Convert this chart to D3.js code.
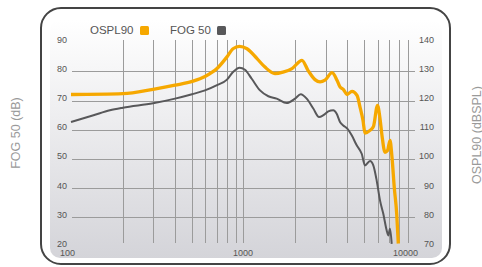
<!DOCTYPE html>
<html>
<head>
<meta charset="utf-8">
<script src="https://cdn.jsdelivr.net/npm/d3@7"></script>
<style>
  body { margin: 0; background: #fff; }
  svg { display: block; font-family: "Liberation Sans", Arial, Helvetica, sans-serif; }
</style>
</head>
<body>
<div id="chart"></div>
<script>
// OSPL90 curve (Hz, dBSPL) - right axis
var osplFreq = [100, 200, 299, 401, 510, 598, 702, 802, 869, 948, 1048, 1198, 1332, 1522, 1694, 1911,
    2183, 2365, 2597, 2777, 2968, 3259, 3483, 3626, 3799, 3981, 4256, 4550, 4737, 4929, 5062, 5412,
    5670, 5982, 6184, 6350, 6610, 6836, 7069, 7260, 7484, 7728, 7896];
var osplVal = [122.1, 122.4, 123.9, 125.3, 126.7, 128.3, 131.0, 135.0, 137.8, 138.6, 137.8, 134.4, 131.5, 129.3, 129.8, 131.0,
    133.8, 130.4, 127.2, 126.4, 127.0, 129.6, 127.0, 124.7, 123.8, 122.1, 123.2, 121.8, 117.8, 113.2, 108.9, 109.8,
    111.2, 118.4, 113.9, 108.1, 102.3, 102.9, 106.4, 100.5, 90.2, 81.3, 71.0];

// FOG 50 curve (Hz, dB) - left axis
var fogFreq = [100, 135, 168, 200, 299, 401, 503, 598, 702, 802, 869, 948, 1020, 1116, 1247, 1393, 1557, 1780,
    1989, 2146, 2325, 2539, 2740, 2901, 3101, 3315, 3470, 3626, 3789, 3997, 4240, 4532, 4845, 5062,
    5412, 5656, 5918, 6184, 6463, 6762, 6908, 7069, 7231];
var fogVal = [62.7, 65.0, 66.7, 67.6, 69.1, 70.7, 72.2, 73.5, 75.3, 77.2, 79.8, 81.3, 80.6, 77.5, 73.5, 71.5, 70.7, 69.2,
    70.7, 72.2, 70.7, 67.3, 64.4, 65.0, 66.3, 66.7, 65.5, 62.7, 61.5, 60.4, 58.1, 54.7, 51.8, 47.8,
    49.3, 47.8, 42.6, 35.8, 31.2, 25.5, 23.8, 26.1, 20.9];

var leftTicks = [20, 30, 40, 50, 60, 70, 80, 90];
var rightTicks = [70, 80, 90, 100, 110, 120, 130, 140];
var gridY = [30, 40, 50, 60, 70, 80];
var gridX = [200, 300, 400, 500, 600, 700, 800, 900, 1000, 2000, 3000, 4000, 5000, 6000, 7000, 8000, 9000];
var xLabels = [100, 1000, 10000];

var width = 482, height = 267;
var orange = "#f6a800", gray = "#58585a";

var svg = d3.select("#chart").append("svg").attr("width", width).attr("height", height);

var x = d3.scaleLog().domain([100, 10000]).range([71, 416]);
var yL = d3.scaleLinear().domain([20, 90]).range([246.5, 42.3]);
var yR = d3.scaleLinear().domain([70, 140]).range([246.5, 42.3]);

// panel background
var grad = svg.append("defs").append("linearGradient")
    .attr("id", "bg").attr("x1", 0).attr("y1", 0).attr("x2", 0).attr("y2", 1);
grad.append("stop").attr("offset", "0%").attr("stop-color", "#ffffff");
grad.append("stop").attr("offset", "100%").attr("stop-color", "#d4d4d9");

svg.append("rect")
    .attr("x", 50).attr("y", 20).attr("width", 392).attr("height", 238)
    .attr("rx", 10)
    .style("fill", "url(#bg)");

svg.append("rect")
    .attr("x", 41).attr("y", 8).attr("width", 409).attr("height", 256)
    .attr("rx", 20)
    .style("fill", "none").style("stroke", "#444").style("stroke-width", 2);

// grid
var grid = svg.append("g").attr("class", "grid");
grid.selectAll("line.h").data(gridY).enter().append("line")
    .attr("class", "h")
    .attr("x1", x(100) + 1).attr("x2", x(10000) - 1)
    .attr("y1", d => Math.round(yL(d)) + 0.5).attr("y2", d => Math.round(yL(d)) + 0.5)
    .style("stroke", "#9b9b9b").style("stroke-width", 1);
grid.selectAll("line.v").data(gridX).enter().append("line")
    .attr("class", "v")
    .attr("x1", d => Math.round(x(d)) + 0.5).attr("x2", d => Math.round(x(d)) + 0.5)
    .attr("y1", 40).attr("y2", 243)
    .style("stroke", "#9b9b9b").style("stroke-width", 1);

// axes (labels only)
var axL = svg.append("g").attr("transform", "translate(70,0)")
    .call(d3.axisLeft(yL).tickValues(leftTicks).tickSize(0).tickPadding(3));
var axR = svg.append("g").attr("transform", "translate(434,0)")
    .call(d3.axisRight(yR).tickValues(rightTicks).tickSize(0).tickPadding(0));
axR.selectAll("text").attr("text-anchor", "end");
var axB = svg.append("g").attr("transform", "translate(0,250)")
    .call(d3.axisBottom(x).tickValues(xLabels).tickFormat(d3.format("d")).tickSize(0).tickPadding(0));
axB.selectAll("text").attr("dx", (d, i) => i == 0 ? -4 : (i == 2 ? -11 : -1));

[axL, axR, axB].forEach(function(a) {
    a.select(".domain").remove();
    a.selectAll("text").style("font-size", "9px").style("fill", "#555").style("font-family", null);
});
axL.selectAll("text").attr("dy", "0.32em").attr("y", -3);
axR.selectAll("text").attr("dy", "0.32em").attr("y", -3);

// curves
var lineL = d3.line().x(d => x(d[0])).y(d => yL(d[1])).curve(d3.curveMonotoneX);
var lineR = d3.line().x(d => x(d[0])).y(d => yR(d[1])).curve(d3.curveMonotoneX);

svg.append("path")
    .datum(d3.zip(fogFreq, fogVal))
    .attr("d", lineL)
    .style("fill", "none").style("stroke", gray).style("stroke-width", 2)
    .style("stroke-linejoin", "round");

svg.append("path")
    .datum(d3.zip(osplFreq, osplVal))
    .attr("d", lineR)
    .style("fill", "none").style("stroke", orange).style("stroke-width", 3.3)
    .style("stroke-linejoin", "round");

// legend
var legend = [{name: "OSPL90", color: orange, x: 90}, {name: "FOG 50", color: gray, x: 170}];
var lg = svg.append("g").selectAll("g").data(legend).enter().append("g");
lg.append("text")
    .attr("x", d => d.x).attr("y", 34)
    .style("font-size", "11.5px").style("fill", "#555")
    .text(d => d.name);
lg.append("rect")
    .attr("x", d => d.x + 50).attr("y", 26).attr("width", 9).attr("height", 9).attr("rx", 1.5)
    .style("fill", d => d.color);
lg.filter((d, i) => i == 1).select("rect").attr("x", d => d.x + 47);

// axis titles
svg.append("text")
    .attr("transform", "translate(19.5,133) rotate(-90)")
    .attr("text-anchor", "middle")
    .style("font-size", "12.5px").style("fill", "#9a9a9a")
    .text("FOG 50 (dB)");
svg.append("text")
    .attr("transform", "translate(480.5,135) rotate(-90)")
    .attr("text-anchor", "middle")
    .style("font-size", "12.5px").style("fill", "#9a9a9a")
    .text("OSPL90 (dBSPL)");
</script>
</body>
</html>
